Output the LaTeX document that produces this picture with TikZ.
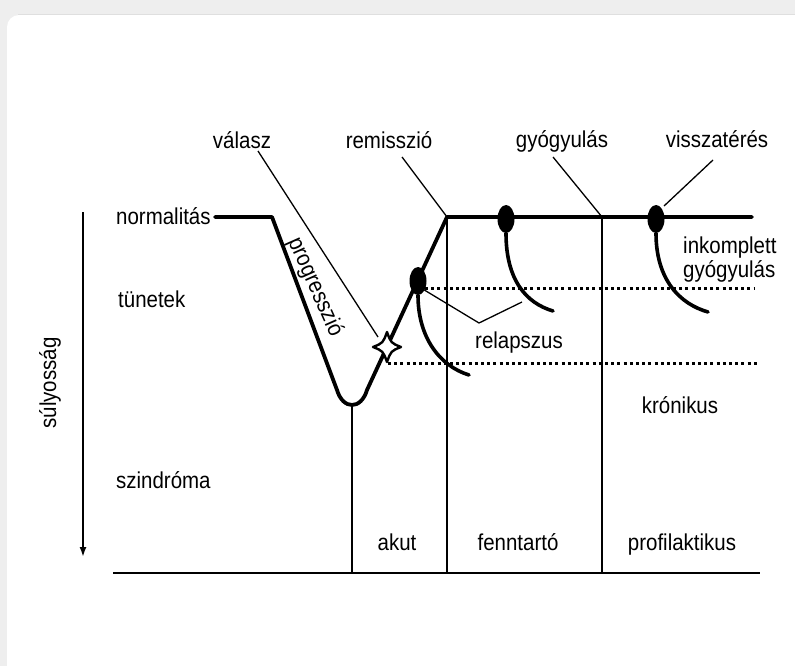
\documentclass[tikz,border=0pt]{standalone}
\usepackage{fontspec}
\setmainfont{Liberation Sans}[FakeStretch=0.89]
\usetikzlibrary{arrows.meta,shapes.geometric}
\definecolor{bgray}{RGB}{238,238,238}
\begin{document}
\begin{tikzpicture}[x=1pt,y=-1pt,
  lbl/.style={font=\fontsize{23}{27}\selectfont, inner sep=0pt, anchor=base},
  course/.style={line width=3.8pt, line join=round, line cap=round},
  thinline/.style={line width=1.3pt},
  hang/.style={line width=3.6pt, line cap=round},
  dotline/.style={line width=3pt, dash pattern=on 3pt off 3.2pt},
  blob/.style={ellipse, fill=black, inner sep=0pt, minimum width=17pt, minimum height=28pt}]
\useasboundingbox (0,0) rectangle (795,666);
\fill[bgray] (0,0) rectangle (795,666);
\fill[white, rounded corners=12pt] (7,15) rectangle (810,690);
\draw[gray!25, line width=1pt] (18,14.5) -- (795,14.5);

% axis frame
\coordinate (bl) at (113,573);
\coordinate (br) at (760,573);
\draw[thinline, line width=1.6pt] (bl) -- (br);
\coordinate (ax1) at (83,212);
\coordinate (ax2) at (83,557);
\draw[line width=1.8pt, -{Latex[length=10pt,width=7pt]}] (ax1) -- (ax2);

% course coordinates
\coordinate (p0) at (215,217);
\coordinate (p1) at (272,217);
\coordinate (p2) at (337,390);
\coordinate (p3) at (367,390);
\coordinate (p4) at (447,217);
\coordinate (p5) at (752,217);

% vertical separators
\coordinate (v1t) at (352,407);
\coordinate (v1b) at (352,573);
\coordinate (v2b) at (447,573);
\coordinate (v3t) at (602,217);
\coordinate (v3b) at (602,573);
\draw[thinline] (v1t) -- (v1b);
\draw[thinline] (p4) -- (v2b);
\draw[thinline] (v3t) -- (v3b);

% dotted levels
\coordinate (da1) at (425,288);
\coordinate (da2) at (755,288);
\coordinate (db1) at (388,363);
\coordinate (db2) at (757,363);
\draw[dotline] (da1) -- (da2);
\draw[dotline] (db1) -- (db2);

% main course
\draw[course] (p0) -- (p1) -- (p2) .. controls (343,410) and (361,410) .. (p3) -- (p4) -- (p5);

% blobs and hanging curves
\node[blob] (d1) at (418,281) {};
\node[blob] (d2) at (506,219) {};
\node[blob] (d3) at (656,219) {};
\coordinate (e1) at (469,375);
\coordinate (e2) at (553,311);
\coordinate (e3) at (708,312);
\draw[hang] (d1.south) .. controls (418,338) and (440,366) .. (e1);
\draw[hang] (d2.south) .. controls (506,280) and (526,303) .. (e2);
\draw[hang] (d3.south) .. controls (656,280) and (680,304) .. (e3);

% response star
\coordinate (st) at (387,347);
\draw[line width=2.4pt, fill=white, line join=round]
  (387,332) .. controls (391,343) .. (401,347)
  .. controls (391,351) .. (387,362)
  .. controls (383,351) .. (373,347)
  .. controls (383,343) .. (387,332) -- cycle;
\node[inner sep=0pt, minimum size=0pt] (star) at (st) {};

% labels
\node[lbl] (valasz) at (242,149) {válasz};
\node[lbl] (remisszio) at (389,149) {remisszió};
\node[lbl] (gyogy) at (562,148) {gyógyulás};
\node[lbl] (vissza) at (717,148) {visszatérés};
\node[lbl, anchor=base west] (norm) at (116,224) {normalitás};
\node[lbl, anchor=base west] (tunet) at (118,307) {tünetek};
\node[lbl, anchor=base west] (szindr) at (116,488) {szindróma};
\node[lbl, anchor=base west] (inkomp) at (683,253) {inkomplett};
\node[lbl, anchor=base west] (gyogy2) at (683,277) {gyógyulás};
\node[lbl] (relap) at (519,348) {relapszus};
\node[lbl] (kron) at (680,413) {krónikus};
\node[lbl] (akut) at (397,550) {akut};
\node[lbl] (fennt) at (518,550) {fenntartó};
\node[lbl] (profil) at (682,550) {profilaktikus};
\node[lbl, anchor=center, rotate=90] (suly) at (50,383) {súlyosság};
\node[lbl, anchor=center, rotate=-66] (prog) at (315,287) {progresszió};

% leader lines
\coordinate (lv1) at (258,151);
\coordinate (lv2) at (378,337);
\draw[thinline] (lv1) -- (lv2);
\coordinate (lr1) at (402,157);
\draw[thinline] (lr1) -- (p4);
\coordinate (lg1) at (553,157);
\draw[thinline] (lg1) -- (v3t);
\coordinate (lw1) at (664,206);
\coordinate (lw2) at (713,160);
\draw[thinline] (lw1) -- (lw2);
\coordinate (lp0) at (421,288);
\coordinate (lp1) at (479,323);
\coordinate (lp2) at (522,302);
\draw[thinline] (lp0) -- (lp1) -- (lp2);
\end{tikzpicture}
\end{document}
